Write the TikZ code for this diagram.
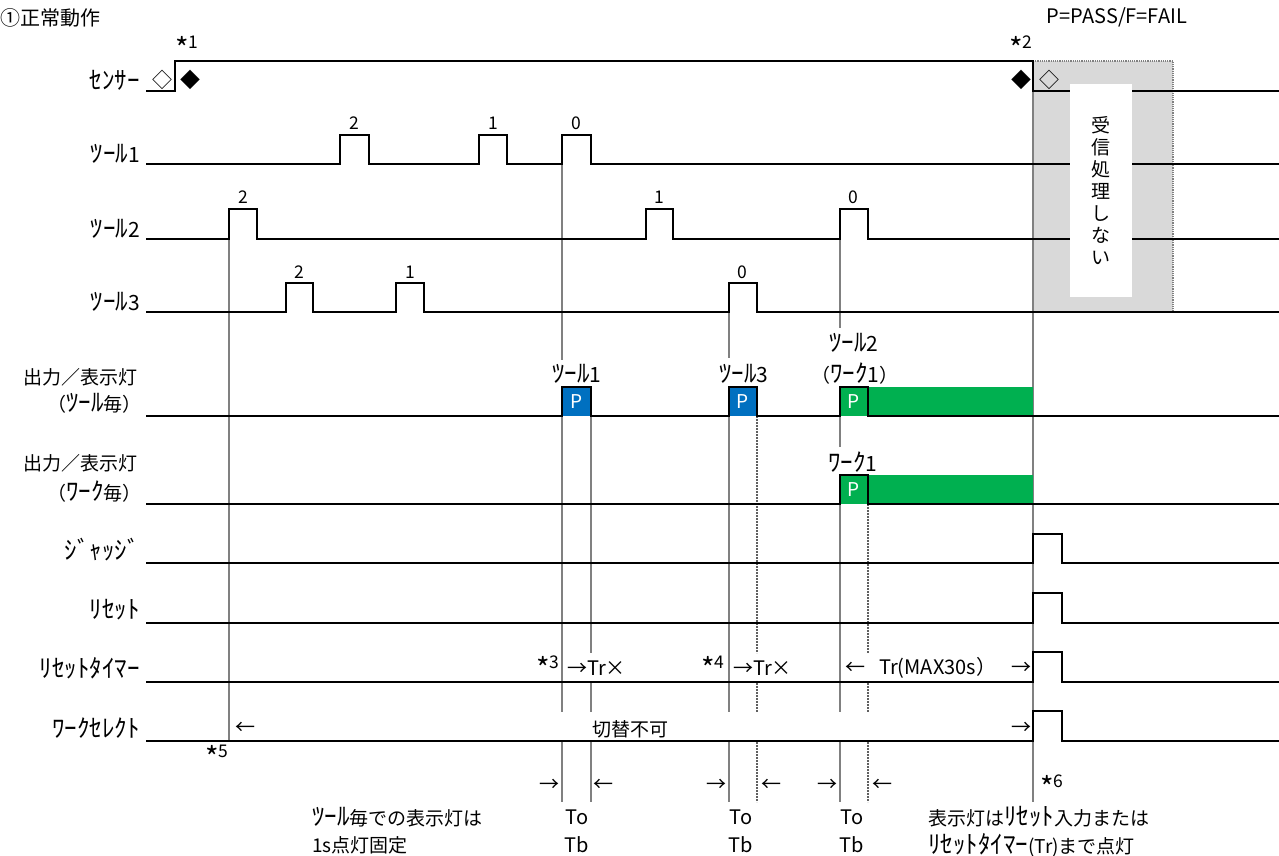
\documentclass[tikz,border=0pt]{standalone}
\usepackage{fontspec}
\setmainfont{Noto Sans CJK JP}
\definecolor{xblue}{HTML}{0070C0}
\definecolor{xgreen}{HTML}{00B050}
\definecolor{vgray}{HTML}{808080}
\definecolor{gfill}{HTML}{D9D9D9}
\newcommand\hk[1]{{\fontsize{25}{25}\selectfont #1}}
\newcommand\dg[1]{{\fontsize{21}{21}\selectfont #1}}
\newcommand\mystar{{\fontsize{29}{29}\selectfont\raisebox{-0.38em}{*}}}
\begin{document}
\begin{tikzpicture}[x=1pt,y=-1pt,
  sig/.style={line width=2.5pt, line join=miter, black},
  vline/.style={draw=vgray, line width=2.5pt},
  dline/.style={draw=vgray!75!black, line width=1.6pt, dash pattern=on 2pt off 1pt},
  jp/.style={inner sep=0pt, font=\fontsize{19}{19}\selectfont},
  lat/.style={inner sep=0pt, font=\fontsize{20}{20}\selectfont},
  num/.style={inner sep=0pt, font=\fontsize{17.5}{17.5}\selectfont},
  dia/.style={inner sep=0pt, font=\fontsize{20}{20}\selectfont},
  lbl/.style={jp, anchor=east},
  pl/.style={inner sep=0pt, text=white, font=\fontsize{19}{19}\selectfont},
]
\useasboundingbox (0,0) rectangle (1279,856);
% gray "no reception" region
\fill[gfill] (1033,61) rectangle (1173,312);
\draw[vgray, densely dotted, line width=1.2pt] (1033,61) -- (1173,61) -- (1173,312);

% vertical guide lines
\draw[vline] (229,239) -- (229,741);
\draw[vline] (562,164) -- (562,360) (562,387) -- (562,712) (562,742) -- (562,802);
\draw[vline] (591,416) -- (591,653) (591,683) -- (591,712) (591,742) -- (591,802);
\draw[vline] (729,312) -- (729,358) (729,387) -- (729,712) (729,742) -- (729,802);
\draw[dline] (757,416) -- (757,653) (757,683) -- (757,712) (757,742) -- (757,802);
\draw[vline] (840,239) -- (840,328) (840,416) -- (840,447) (840,475) -- (840,712) (840,742) -- (840,802);
\draw[dline] (868,504) -- (868,653) (868,683) -- (868,712) (868,742) -- (868,802);
\draw[vline] (1033,61) -- (1033,802);

% coloured output fills
\fill[xblue] (562,387) rectangle (591,416);
\fill[xblue] (729,387) rectangle (757,416);
\fill[xgreen] (840,387) rectangle (1033,416);
\fill[xgreen] (840,475) rectangle (1033,504);

% signals
\draw[sig] (146,91) -- (175,91) -- (175,61) -- (1033,61) -- (1033,91) -- (1279,91);
\draw[sig] (146,164) -- (340,164) -- (340,135) -- (369,135) -- (369,164) -- (479,164) -- (479,135) -- (507,135) -- (507,164) -- (562,164) -- (562,135) -- (591,135) -- (591,164) -- (1279,164);
\draw[sig] (146,239) -- (229,239) -- (229,209) -- (257,209) -- (257,239) -- (646,239) -- (646,209) -- (673,209) -- (673,239) -- (840,239) -- (840,209) -- (868,209) -- (868,239) -- (1279,239);
\draw[sig] (146,312) -- (286,312) -- (286,283) -- (313,283) -- (313,312) -- (396,312) -- (396,283) -- (424,283) -- (424,312) -- (729,312) -- (729,283) -- (757,283) -- (757,312) -- (1279,312);
\draw[sig] (146,416) -- (562,416) -- (562,387) -- (591,387) -- (591,416) -- (729,416) -- (729,387) -- (757,387) -- (757,416) -- (840,416) -- (840,387) -- (868,387) -- (868,416) -- (1279,416);
\draw[sig] (146,504) -- (840,504) -- (840,475) -- (868,475) -- (868,504) -- (1279,504);
\draw[sig] (146,563) -- (1033,563) -- (1033,534) -- (1062,534) -- (1062,563) -- (1279,563);
\draw[sig] (146,623) -- (1033,623) -- (1033,593) -- (1062,593) -- (1062,623) -- (1279,623);
\draw[sig] (146,682) -- (1033,682) -- (1033,652) -- (1062,652) -- (1062,682) -- (1279,682);
\draw[sig] (146,741) -- (1033,741) -- (1033,711) -- (1062,711) -- (1062,741) -- (1279,741);

% white box with vertical text
\node[fill=white, minimum width=62pt, minimum height=213pt, inner sep=0pt] (nobox) at (1101,190.5) {};
\node[inner sep=0pt, align=center, font=\fontsize{19}{22}\selectfont] (notxt) at (1101,191) {受\\信\\処\\理\\し\\な\\い};

% header texts
\node[jp, anchor=west, font=\fontsize{20}{20}\selectfont] (title) at (0,18) {①正常動作};
\node[lat] (legend) at (1117,17) {P=PASS/F=FAIL};
\node[num] (s1) at (187,48) {\mystar1};
\node[num] (s2) at (1021,48) {\mystar2};
\node[dia] (d1) at (162,80) {◇};
\node[dia] (d2) at (190,80) {◆};
\node[dia] (d3) at (1021,80) {◆};
\node[dia] (d4) at (1049,80) {◇};

% row labels
\node[lbl] (lsen) at (140,80) {\hk{ｾﾝｻｰ}};
\node[lbl] (lt1) at (140,154) {\hk{ﾂｰﾙ}\dg{1}};
\node[lbl] (lt2) at (140,229) {\hk{ﾂｰﾙ}\dg{2}};
\node[lbl] (lt3) at (140,302) {\hk{ﾂｰﾙ}\dg{3}};
\node[lbl] (lo1) at (138,377) {出力／表示灯};
\node[lbl] (lo1b) at (142,403) {（\hk{ﾂｰﾙ}毎）};
\node[lbl] (lo2) at (138,463) {出力／表示灯};
\node[lbl] (lo2b) at (142,492) {（\hk{ﾜｰｸ}毎）};
\node[lbl] (ljg) at (140,550) {\hk{ｼﾞｬｯｼﾞ}};
\node[lbl] (lrs) at (140,610) {\hk{ﾘｾｯﾄ}};
\node[lbl] (lrt) at (140,668) {\hk{ﾘｾｯﾄﾀｲﾏｰ}};
\node[lbl] (lws) at (140,728) {\hk{ﾜｰｸｾﾚｸﾄ}};

% pulse counters
\node[num] (t1a) at (354,123) {2};
\node[num] (t1b) at (493,123) {1};
\node[num] (t1c) at (576,123) {0};
\node[num] (t2a) at (243,197) {2};
\node[num] (t2b) at (659,197) {1};
\node[num] (t2c) at (853,197) {0};
\node[num] (t3a) at (299,272) {2};
\node[num] (t3b) at (410,272) {1};
\node[num] (t3c) at (742,272) {0};

% output labels
\node[jp] (o1) at (577,374) {\hk{ﾂｰﾙ}\dg{1}};
\node[jp] (o3) at (744,374) {\hk{ﾂｰﾙ}\dg{3}};
\node[jp] (o2) at (854,343) {\hk{ﾂｰﾙ}\dg{2}};
\node[jp] (o2b) at (855,374) {（\hk{ﾜｰｸ}\dg{1}）};
\node[jp] (w1) at (853,462) {\hk{ﾜｰｸ}\dg{1}};
\node[pl] (p1) at (576.5,402) {P};
\node[pl] (p2) at (743,402) {P};
\node[pl] (p3) at (854,402) {P};
\node[pl] (p4) at (854,490) {P};

% reset timer row
\node[num] (s3) at (548,668) {\mystar3};
\node[lat, anchor=west] (tr1) at (567,668) {→Tr×};
\node[num] (s4) at (713,668) {\mystar4};
\node[lat, anchor=west] (tr2) at (733,668) {→Tr×};
\node[lat] (trl) at (855,668) {←};
\node[lat, anchor=west] (trm) at (879,668) {Tr(MAX30s）};
\node[lat] (trr) at (1021,668) {→};

% work select row
\node[lat] (wsl) at (245,728) {←};
\node[jp] (wsm) at (630,729) {切替不可};
\node[lat] (wsr) at (1021,728) {→};
\node[num] (s5) at (217,757) {\mystar5};

% bottom timing marks
\node[lat] (a1) at (549,785) {→};
\node[lat] (a2) at (603,785) {←};
\node[lat] (a3) at (716,785) {→};
\node[lat] (a4) at (771,785) {←};
\node[lat] (a5) at (827,785) {→};
\node[lat] (a6) at (882,785) {←};
\node[num, anchor=west] (s6) at (1040,787) {\mystar6};
\node[lat] (to1) at (577,817) {To};
\node[lat] (to2) at (741,817) {To};
\node[lat] (to3) at (852,817) {To};
\node[lat] (tb1) at (577,845) {Tb};
\node[lat] (tb2) at (741,845) {Tb};
\node[lat] (tb3) at (852,845) {Tb};
\node[jp, anchor=west] (n1) at (312,817) {\hk{ﾂｰﾙ}毎での表示灯は};
\node[jp, anchor=west] (n2) at (312,845) {1s点灯固定};
\node[jp, anchor=west] (n3) at (928,817) {表示灯は\hk{ﾘｾｯﾄ}入力または};
\node[jp, anchor=west] (n4) at (928,845) {\hk{ﾘｾｯﾄﾀｲﾏｰ}(Tr)まで点灯};
\end{tikzpicture}
\end{document}
